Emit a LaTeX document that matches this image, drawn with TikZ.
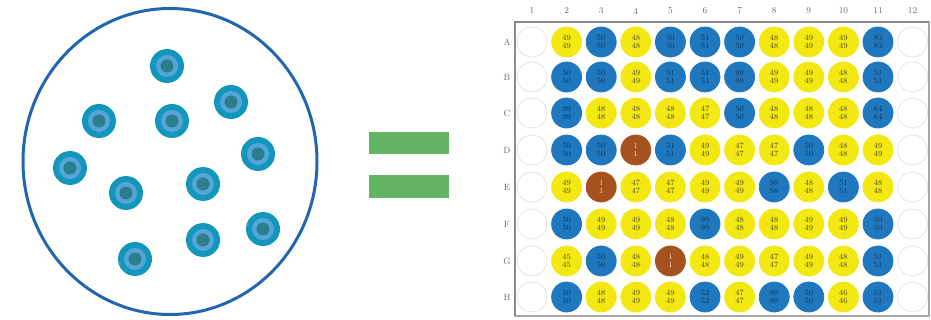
\documentclass[tikz,border=0pt]{standalone}
\usetikzlibrary{shapes.geometric}
\definecolor{dishblue}{HTML}{2266B0}
\definecolor{cellouter}{HTML}{1396BC}
\definecolor{cellring}{HTML}{55A6D6}
\definecolor{cellcore}{HTML}{2C7D8E}
\definecolor{eqgreen}{HTML}{63B565}
\definecolor{wfy}{HTML}{F4E812}
\definecolor{wfb}{HTML}{1F78BE}
\definecolor{wfr}{HTML}{A5521E}
\definecolor{wfe}{HTML}{FFFFFF}
\definecolor{wdy}{HTML}{F4E812}
\definecolor{wdb}{HTML}{1F78BE}
\definecolor{wdr}{HTML}{A5521E}
\definecolor{wde}{HTML}{E4E4E4}
\definecolor{wty}{HTML}{4A4520}
\definecolor{wtb}{HTML}{10365A}
\definecolor{wtr}{HTML}{F2D8C4}
\definecolor{wte}{HTML}{FFFFFF}
\definecolor{plategray}{HTML}{A8A8A8}
\tikzset{
  well/.style={circle, minimum size=30pt, inner sep=0pt, align=center,
    fill=wf#1, draw=wd#1, line width=0.8pt, text=wt#1,
    font=\fontsize{8}{8.5}\selectfont},
  axislabel/.style={text=black!60, font=\fontsize{9}{9}\selectfont},
  cell/.pic={
    \fill[cellouter] (0,0) circle (17);
    \fill[cellring] (0,0) circle (11);
    \fill[cellcore] (0,0) circle (6.5);
  },
  eqbar/.style={fill=eqgreen}
}
\newcommand\platerow[3]{%
  \node[axislabel] (r-#1) at (507,#2) {#1};
  \foreach \c/\v [count=\j] in {#3} {
    \pgfmathsetmacro\xx{532+(\j-1)*34.6}
    \node[well=\c] (w-#1-\j) at (\xx,#2) {\v\\\v};
  }%
}
\begin{document}
\begin{tikzpicture}[x=1pt,y=-1pt]
\useasboundingbox (0,0) rectangle (931,320);

% culture dish with cells
\draw[dishblue, line width=3pt] (170,161.5) ellipse [x radius=147, y radius=153];
\foreach \px/\py [count=\k] in {167/66, 231/102, 99/121, 172/121, 258/154,
    70/168, 126/193, 203/184, 263/229, 203/240, 135/259}
  \pic (c\k) at (\px,\py) {cell};

% equals sign
\fill[eqbar] (369,132) rectangle (449,154);
\fill[eqbar] (369,175) rectangle (449,198);

% plate frame
\draw[plategray, line width=1.2pt] (515,22) rectangle (929,316);
\draw[black!45, line width=2pt] (515,316) -- (515,22) -- (929,22);

% column numbers
\foreach \j in {1,...,12} {
  \pgfmathsetmacro\xx{532+(\j-1)*34.6}
  \node[axislabel] (col-\j) at (\xx,11) {\j};
}

% wells
\platerow{A}{42}{e/,y/49,b/50,y/48,b/50,b/51,b/50,y/48,y/49,y/49,b/83,e/}
\platerow{B}{77}{e/,b/50,b/50,y/49,b/51,b/51,b/98,y/49,y/49,y/48,b/51,e/}
\platerow{C}{113}{e/,b/99,y/48,y/48,y/48,y/47,b/50,y/48,y/48,y/48,b/64,e/}
\platerow{D}{150}{e/,b/50,b/50,r/1,b/51,y/49,y/47,y/47,b/50,y/48,y/49,e/}
\platerow{E}{187}{e/,y/49,r/1,y/47,y/47,y/49,y/49,b/98,y/48,b/51,y/48,e/}
\platerow{F}{224}{e/,b/50,y/49,y/49,y/48,b/99,y/48,y/48,y/49,y/49,b/50,e/}
\platerow{G}{261}{e/,y/45,b/50,y/48,r/1,y/48,y/49,y/47,y/49,y/48,b/51,e/}
\platerow{H}{297}{e/,b/50,y/48,y/49,y/49,b/52,y/47,b/99,b/50,y/46,b/51,e/}
\end{tikzpicture}
\end{document}
